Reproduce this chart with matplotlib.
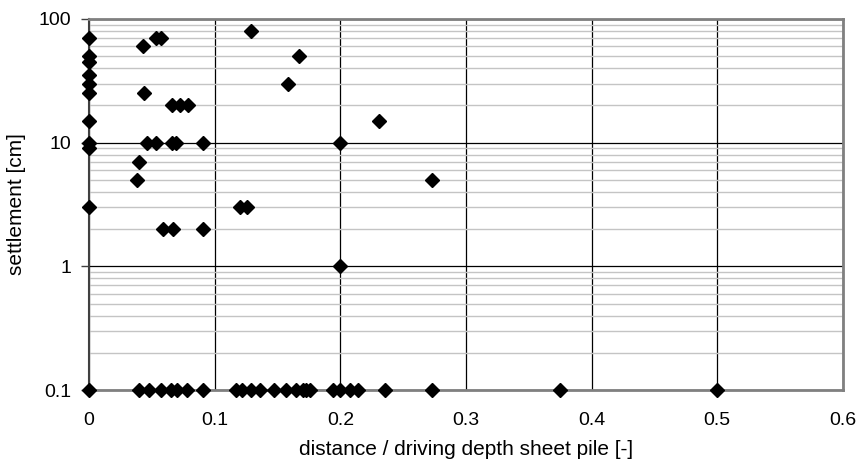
import matplotlib.pyplot as plt
from matplotlib.ticker import LogLocator, FixedLocator, FuncFormatter, NullFormatter

plt.rcParams['font.family'] = ['Liberation Sans', 'DejaVu Sans']

# measured points: ratio distance / driving depth vs. settlement
x_top = [0, 0, 0, 0, 0, 0, 0, 0, 0, 0,
         0.043, 0.053, 0.057, 0.044, 0.066, 0.0725, 0.079,
         0.046, 0.053, 0.066, 0.069, 0.091, 0.040, 0.038,
         0.059, 0.067, 0.091, 0.120, 0.1255,
         0.129, 0.167, 0.158, 0.2307, 0.200, 0.200, 0.2726]
y_top = [70, 50, 45, 35, 30, 25, 15, 10, 9, 3,
         60, 70, 70, 25, 20, 20, 20,
         10, 10, 10, 10, 10, 7, 5,
         2, 2, 2, 3, 3,
         80, 50, 30, 15, 10, 1, 5]

# points with no measurable settlement are plotted on the 0.1 line
x_zero = [0, 0.040, 0.048, 0.057, 0.065, 0.070, 0.078, 0.091,
          0.117, 0.122, 0.129, 0.136, 0.147, 0.157, 0.165, 0.170, 0.173, 0.176,
          0.194, 0.200, 0.208, 0.214, 0.2355, 0.2726, 0.375, 0.500]
y_zero = [0.1] * len(x_zero)

x_ticks = [0, 0.1, 0.2, 0.3, 0.4, 0.5, 0.6]
y_ticks = [0.1, 1, 10, 100]

fig = plt.figure(figsize=(8.6, 4.7), dpi=100)
ax = fig.add_axes([0.1035, 0.1702, 0.8767, 0.7894])

ax.set_yscale('log')
ax.set_xlim(0, 0.6)
ax.set_ylim(0.1, 100)

ax.yaxis.set_major_locator(FixedLocator(y_ticks))
ax.yaxis.set_minor_locator(LogLocator(base=10, subs=range(2, 10)))
ax.yaxis.set_major_formatter(FuncFormatter(lambda v, p: f"{v:g}"))
ax.yaxis.set_minor_formatter(NullFormatter())
ax.xaxis.set_major_locator(FixedLocator(x_ticks))
ax.xaxis.set_major_formatter(FuncFormatter(lambda v, p: f"{v:g}"))

ax.grid(which='minor', axis='y', color='#c4c4c4', linewidth=1.0)
ax.grid(which='major', axis='both', color='black', linewidth=0.9)
ax.set_axisbelow(True)

for side in ['top', 'right', 'bottom']:
    ax.spines[side].set_color('#808080')
    ax.spines[side].set_linewidth(2)
ax.spines['left'].set_color('#404040')
ax.spines['left'].set_linewidth(1.5)

ax.tick_params(axis='y', which='major', length=6, width=1, color='#404040',
               labelsize=14, pad=7)
ax.tick_params(axis='y', which='minor', length=0)
ax.tick_params(axis='x', length=0, labelsize=14, pad=16)

ax.plot(x_top, y_top, 'D', color='black', markersize=7.3, clip_on=False, zorder=5)
ax.plot(x_zero, y_zero, 'D', color='black', markersize=7.3, clip_on=False, zorder=5)

ax.set_xlabel('distance / driving depth sheet pile [-]', fontsize=15, labelpad=8)
ax.set_ylabel('settlement [cm]', fontsize=15, labelpad=9)

fig.savefig('out.png', dpi=100)
